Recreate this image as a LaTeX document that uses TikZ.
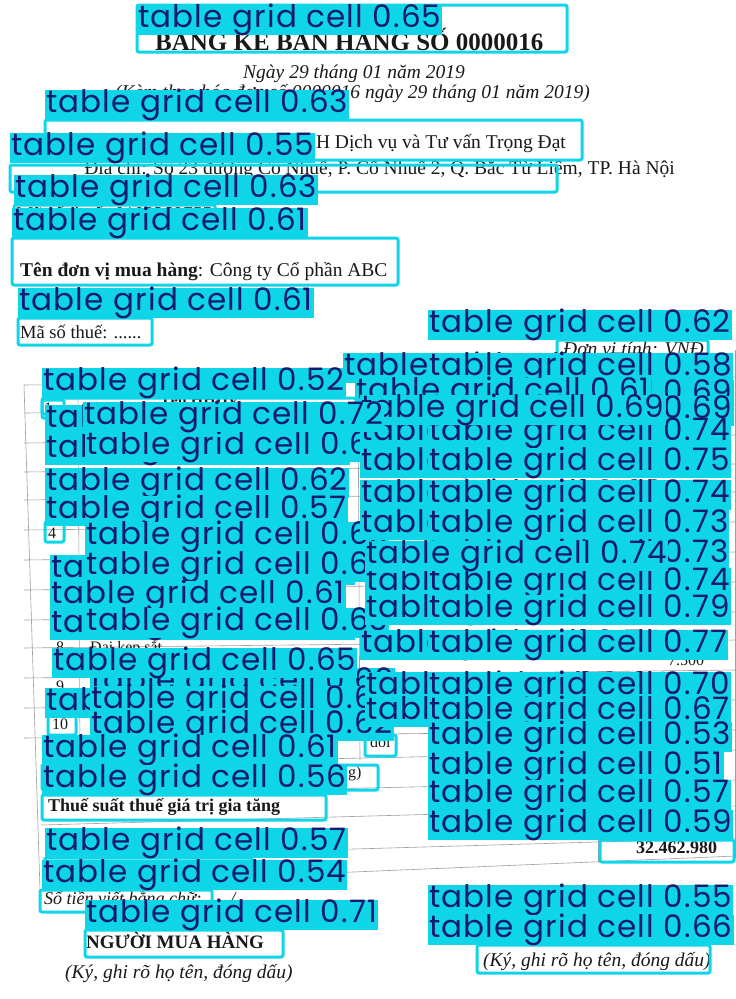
\documentclass[tikz,border=0pt]{standalone}
\usepackage{fontspec}
\setmainfont{Liberation Serif}
\newfontfamily\labfam[LetterSpace=3.8]{Poppins}
\definecolor{cy}{RGB}{14,214,232}
\definecolor{nv}{RGB}{18,28,110}
\definecolor{ink}{RGB}{25,25,25}
\tikzset{
 lab/.style={fill=cy, text=nv, font=\labfam\fontsize{31}{31}\selectfont, anchor=north west, inner xsep=1pt, inner ysep=0pt, minimum height=30pt, text height=22pt, text depth=7pt},
 bx/.style={draw=cy, line width=3pt, rounded corners=2pt},
 doc/.style={anchor=base west, inner sep=0pt, text=ink, font=\fontsize{19.5}{19.5}\selectfont},
 ital/.style={font=\itshape\fontsize{19.5}{19.5}\selectfont},
 sm/.style={font=\fontsize{16}{16}\selectfont},
 tl/.style={draw=gray!75, line width=0.6pt},
}
\begin{document}
\begin{tikzpicture}[x=1pt,y=-1pt]
\useasboundingbox (0,0) rectangle (736,999);
\fill[white] (0,0) rectangle (736,999);
% ---------- document ----------
\node[doc, font=\bfseries\fontsize{25}{25}\selectfont] (title) at (155,50) {BẢNG KÊ BÁN HÀNG SỐ 0000016};
\node[doc, ital, anchor=base] (date) at (354,78) {Ngày 29 tháng 01 năm 2019};
\node[doc, ital, anchor=base east] (ref) at (590,98) {(Kèm theo hóa đơn số 0000016 ngày 29 tháng 01 năm 2019)};
\node[doc, anchor=base east] (seller) at (566,148) {Tên người bán: Công ty TNHH Dịch vụ và Tư vấn Trọng Đạt};
\node[doc, anchor=base east] (addr) at (675,174) {Địa chỉ: Số 23 đường Cổ Nhuế, P. Cổ Nhuế 2, Q. Bắc Từ Liêm, TP. Hà Nội};
\node[doc] (mst1) at (16,220) {Mã số thuế: 0108269755};
\node[doc] (buyer) at (20,276) {\textbf{Tên đơn vị mua hàng}: Công ty Cổ phần ABC};
\node[doc, font=\fontsize{18.5}{18.5}\selectfont] (mst2) at (20,338) {Mã số thuế: ......};
\node[doc, ital] (unit) at (563,355) {Đơn vị tính: VNĐ};
% table lines
\draw[tl] (24,385) -- (40,890);
\foreach \yy in {385,413,443,472,500,530,560,590,620,648,678,708,738}
  \draw[tl] (24,\yy) -- (736,\yy-8);
\draw[tl] (40,765) -- (736,750);
\draw[tl] (41,795) -- (736,780);
\draw[tl] (41,825) -- (736,806);
\draw[tl] (42,858) -- (736,838);
\draw[tl] (42,885) -- (736,856);
\draw[tl] (598,838) -- (598,862);
\draw[tl] (735,350) -- (735,858);
\draw[tl] (78,385) -- (80,760);
\draw[tl] (358,385) -- (360,760);
% cell text
\node[doc, sm] (c1) at (44,413) {1};
\node[doc, sm, font=\bfseries\fontsize{16}{16}\selectfont] (c2) at (160,405) {Tên HHDV};
\node[doc, sm] (c4) at (48,538) {4};
\node[doc, sm] (c8) at (56,652) {8};
\node[doc, sm] (c8b) at (90,652) {Đai kẹp sắt};
\node[doc, sm] (c9) at (56,691) {9};
\node[doc, sm] (c10) at (52,729) {10};
\node[doc, sm] (cdoi) at (370,747) {đôi};
\node[doc, sm] (cg) at (348,777) {g)};
\node[doc, sm] (c75) at (668,665) {7.500};
\node[doc, font=\bfseries\fontsize{18}{18}\selectfont] (vat) at (48,811) {Thuế suất thuế giá trị gia tăng};
\node[doc, font=\bfseries\fontsize{18}{18}\selectfont] (tot) at (636,853) {32.462.980};
\node[doc, font=\itshape\fontsize{18}{18}\selectfont] (words) at (44,904) {Số tiền viết bằng chữ: ...../.};
\node[doc, font=\bfseries\fontsize{19}{19}\selectfont] (buyer2) at (86,948) {NGƯỜI MUA HÀNG};
\node[doc, ital] (sig1) at (65,978) {(Ký, ghi rõ họ tên, đóng dấu)};
\node[doc, font=\bfseries\fontsize{19}{19}\selectfont] (seller2) at (505,934) {NGƯỜI BÁN HÀNG};
\node[doc, ital] (sig2) at (483,966) {(Ký, ghi rõ họ tên, đóng dấu)};
% ---------- detections: top ----------
\draw[bx] (137,5) rectangle (567,52);  \node[lab] (l1) at (137,5) {table grid cell 0.65};
\draw[bx] (45,120) rectangle (582,160); \node[lab] (l2) at (45,90) {table grid cell 0.63};
\draw[bx] (10,165) rectangle (557,192); \node[lab] (l3) at (10,133) {table grid cell 0.55};
\draw[bx] (14,205) rectangle (215,214); \node[lab] (l4) at (14,175) {table grid cell 0.63};
\draw[bx] (12,238) rectangle (398,285); \node[lab] (l5) at (12,208) {table grid cell 0.61};
\draw[bx] (18,318) rectangle (152,345); \node[lab] (l6) at (18,288) {table grid cell 0.61};
\draw[bx] (557,340) rectangle (708,358); \node[lab] (l7) at (428,310) {table grid cell 0.62};
% ---------- table, left ----------
\draw[bx] (42,398) rectangle (356,414); \node[lab] (l8) at (42,368) {table grid cell 0.52};
\draw[bx] (42,400) rectangle (64,418);
\node[lab] (l9) at (45,405) {table grid cell 0.60};
\node[lab] (l10) at (45,435) {table grid cell 0.58};
\draw[bx] (45,522) rectangle (64,542);
\node[lab] (l11) at (50,555) {table grid cell 0.59};
\node[lab] (l12) at (50,610) {table grid cell 0.60};
\node[lab] (l13) at (45,688) {table grid cell 0.58};
\draw[bx] (48,715) rectangle (76,735);
\node[lab] (l15) at (85,432) {table grid cell 0.66};
\node[lab] (l16) at (45,468) {table grid cell 0.62};
\node[lab] (l17) at (45,496) {table grid cell 0.57};
\node[lab] (l18) at (85,522) {table grid cell 0.63};
\node[lab] (l19) at (85,552) {table grid cell 0.66};
\node[lab] (l20) at (50,581) {table grid cell 0.61};
\node[lab] (l21) at (85,608) {table grid cell 0.63};
\node[lab] (l22) at (90,668) {table grid cell 0.60};
\node[lab] (l23) at (52,648) {table grid cell 0.65};
\node[lab] (l24) at (90,686) {table grid cell 0.66};
\node[lab] (l25) at (90,711) {table grid cell 0.62};
\draw[bx] (42,765) rectangle (378,790); \node[lab] (l26) at (42,735) {table grid cell 0.61};
\draw[bx] (42,795) rectangle (326,820); \node[lab] (l27) at (42,765) {table grid cell 0.56};
\draw[bx] (45,858) rectangle (252,872); \node[lab] (l28) at (45,828) {table grid cell 0.57};
\draw[bx] (40,890) rectangle (212,912); \node[lab] (l29) at (42,860) {table grid cell 0.54};
\draw[bx] (85,930) rectangle (283,957); \node[lab] (l30) at (85,900) {table grid cell 0.71};
% ---------- table, right fragments ----------
\node[lab] (r1) at (343,353) {table grid cell 0.57};
\node[lab] (r2) at (360,418) {table grid cell 0.70};
\node[lab] (r3) at (360,448) {table grid cell 0.70};
\node[lab] (r4) at (360,480) {table grid cell 0.68};
\node[lab] (r5) at (360,510) {table grid cell 0.68};
\node[lab] (r6) at (365,568) {table grid cell 0.66};
\node[lab] (r7) at (365,595) {table grid cell 0.64};
\node[lab] (r8) at (360,630) {table grid cell 0.74};
\node[lab] (r9) at (365,672) {table grid cell 0.64};
\node[lab] (r10) at (365,697) {table grid cell 0.60};
\draw[bx] (365,735) rectangle (396,756);
% ---------- table, right column ----------
\node[lab] (k1) at (428,353) {table grid cell 0.58};
\node[lab] (k2) at (428,380) {table grid cell 0.69};
\node[lab] (k3) at (428,396) {table grid cell 0.69};
\node[lab] (k4) at (428,418) {table grid cell 0.74};
\node[lab] (k5) at (428,448) {table grid cell 0.75};
\node[lab] (k6) at (428,480) {table grid cell 0.74};
\node[lab] (k7) at (428,510) {table grid cell 0.73};
\node[lab] (k8) at (428,540) {table grid cell 0.73};
\node[lab] (k9) at (428,568) {table grid cell 0.74};
\node[lab] (k10) at (428,595) {table grid cell 0.79};
\node[lab] (k11) at (428,630) {table grid cell 0.77};
\node[lab] (k12) at (428,672) {table grid cell 0.70};
\node[lab] (k13) at (428,697) {table grid cell 0.67};
\node[lab] (k14) at (428,722) {table grid cell 0.53};
\node[lab] (k15) at (428,752) {table grid cell 0.51};
\node[lab] (k16) at (428,780) {table grid cell 0.57};
\draw[bx] (600,840) rectangle (734,862); \node[lab] (k17) at (428,810) {table grid cell 0.59};
\node[lab] (m1) at (355,378) {table grid cell 0.61};
\node[lab] (m2) at (360,395) {table grid cell 0.69};
\node[lab] (m3) at (365,541) {table grid cell 0.74};
\node[lab] (l14) at (83,402) {table grid cell 0.72};
% ---------- signatures ----------
\draw[bx] (500,915) rectangle (700,935); \node[lab] (k18) at (428,885) {table grid cell 0.55};
\draw[bx] (477,945) rectangle (710,973); \node[lab] (k19) at (428,915) {table grid cell 0.66};
\end{tikzpicture}
\end{document}
